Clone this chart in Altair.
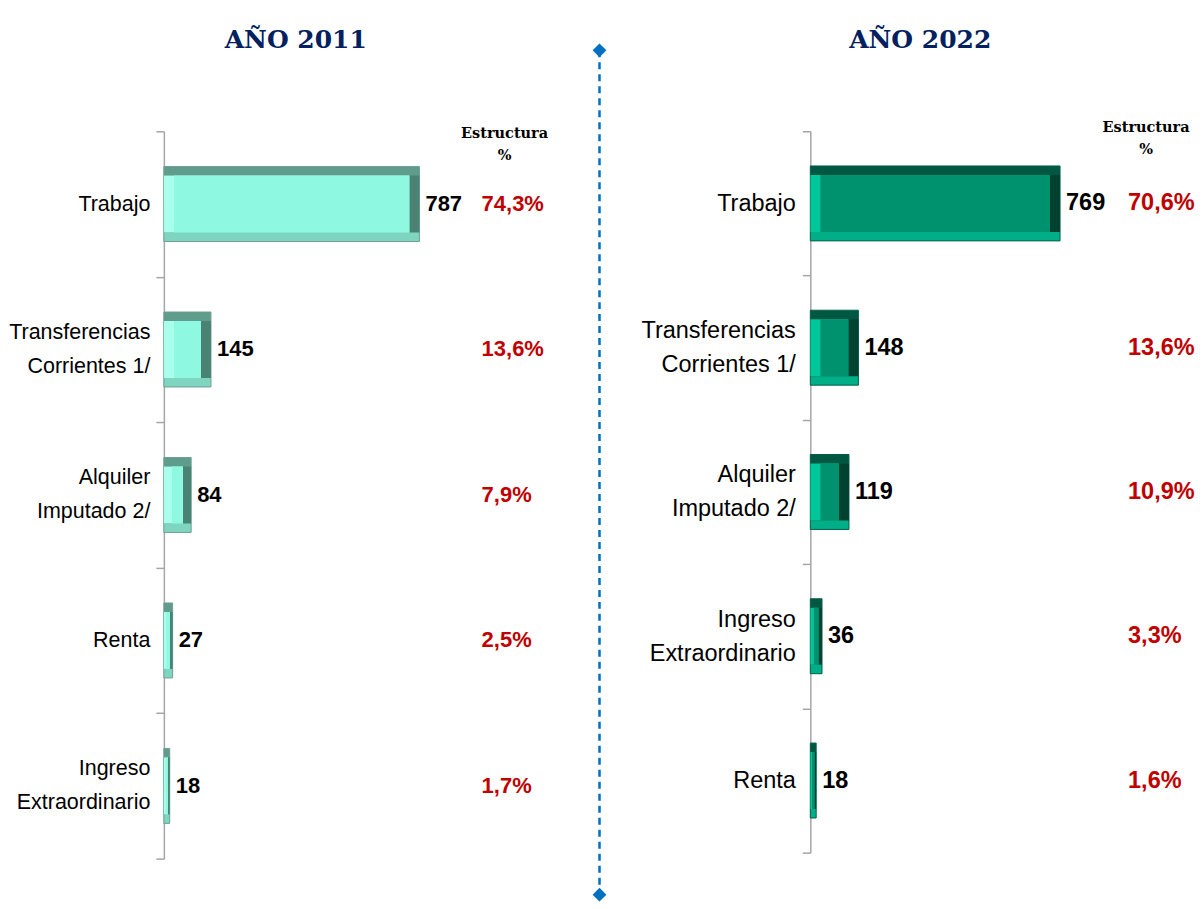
import altair as alt
import pandas as pd

# ---- data ----
left_cats = ["Trabajo", "Transferencias|Corrientes 1/", "Alquiler|Imputado 2/", "Renta", "Ingreso|Extraordinario"]
left_vals = [787, 145, 84, 27, 18]
left_pcts = ["74,3%", "13,6%", "7,9%", "2,5%", "1,7%"]

right_cats = ["Trabajo", "Transferencias|Corrientes 1/", "Alquiler|Imputado 2/", "Ingreso|Extraordinario", "Renta"]
right_vals = [769, 148, 119, 36, 18]
right_pcts = ["70,6%", "13,6%", "10,9%", "3,3%", "1,6%"]

title_left = "AÑO 2011"
title_right = "AÑO 2022"
header_text = "Estructura\n%"

# ---- style ----
SANS = "Liberation Sans, Arial, sans-serif"
SERIF = "DejaVu Serif, Cambria, serif"
PX_PER_UNIT = 0.325

pal_2011 = dict(top="#5F9C8B", bottom="#7ED6C0", left="#A8FFEC", right="#4A8374",
                face="#8EF8E0", border="#6F9F93")
pal_2022 = dict(top="#005843", bottom="#00AE88", left="#00C79A", right="#00422F",
                face="#00916F", border="#00604A")


def grad_v(c_top, c_bot):
    return alt.Gradient(
        gradient="linear", x1=0, x2=0, y1=0, y2=1,
        stops=[alt.GradientStop(color=c_top, offset=0), alt.GradientStop(color=c_top, offset=0.5),
               alt.GradientStop(color=c_bot, offset=0.5), alt.GradientStop(color=c_bot, offset=1)],
    )


def panel(cats, vals, pcts, pal, width, height, title, title_x, label_size, num_size,
          extent, label_pad, pct_x, header_x, header_y, separator=False):
    df = pd.DataFrame({"cat": cats, "val": vals, "pct": pcts})
    dmax = width / PX_PER_UNIT
    xs = alt.Scale(domain=[0, dmax], nice=False, zero=True)
    yax = alt.Axis(
        title=None, labelExpr="split(datum.label, '|')", labelFont=SANS,
        labelFontSize=label_size, labelColor="black", labelLineHeight=34,
        labelOffset={"condition": {"test": "indexof(datum.label, '|') >= 0", "value": -17}, "value": 0},
        labelPadding=label_pad, tickSize=8, tickColor="#A6A6A6", tickWidth=1.5,
        domainColor="#A6A6A6", domainWidth=1.5, tickBand="extent",
        minExtent=extent, maxExtent=extent, labelLimit=300,
    )
    base = alt.Chart(df).transform_calculate(
        zero="0",
        lo="min(31, datum.val * 0.3)",
        hi="datum.val - min(31, datum.val * 0.3)",
    ).encode(
        y=alt.Y("cat:N", sort=cats, scale=alt.Scale(paddingInner=0, paddingOuter=0), axis=yax)
    )
    outer = base.mark_bar(size=75, color=grad_v(pal["top"], pal["bottom"]),
                          stroke=pal["border"], strokeWidth=1).encode(
        x=alt.X("zero:Q", scale=xs, axis=None), x2="val:Q")
    rstrip = base.mark_bar(size=57, color=pal["right"]).encode(
        x=alt.X("zero:Q", axis=None), x2="val:Q")
    lstrip = base.mark_bar(size=57, color=pal["left"]).encode(
        x=alt.X("zero:Q", axis=None), x2="hi:Q")
    face = base.mark_bar(size=57, color=pal["face"]).encode(
        x=alt.X("lo:Q", axis=None), x2="hi:Q")
    vals_t = base.mark_text(align="left", baseline="middle", dx=6, font=SANS, fontSize=num_size,
                            fontWeight="bold", color="black").encode(
        x=alt.X("val:Q", axis=None), text="val:Q")
    pct_t = base.mark_text(align="left", baseline="middle", font=SANS, fontSize=num_size,
                           fontWeight="bold", color="#C00000").encode(
        x=alt.value(pct_x), text="pct:N")
    one = pd.DataFrame({"k": [0]})
    header = alt.Chart(one).mark_text(align="center", baseline="middle", lineBreak="\n",
                                      font=SERIF, fontWeight="bold", fontSize=14.5,
                                      lineHeight=22, color="black").encode(
        x=alt.value(header_x), y=alt.value(header_y), text=alt.value(header_text))
    ttl = alt.Chart(one).mark_text(align="center", baseline="middle", font=SERIF,
                                   fontWeight="bold", fontSize=25, color="#002060").encode(
        x=alt.value(title_x), y=alt.value(-91), text=alt.value(title))
    layers = [outer, rstrip, lstrip, face, vals_t, pct_t, header, ttl]
    if separator:
        sx = 436
        rule = alt.Chart(one).mark_rule(color="#0070C0", strokeWidth=2.5, strokeDash=[7, 5]).encode(
            x=alt.value(sx), y=alt.value(-81), y2=alt.value(764))
        d1 = alt.Chart(one).mark_point(shape="diamond", filled=True, size=190, color="#0070C0",
                                       opacity=1).encode(x=alt.value(sx), y=alt.value(-81))
        d2 = alt.Chart(one).mark_point(shape="diamond", filled=True, size=190, color="#0070C0",
                                       opacity=1).encode(x=alt.value(sx), y=alt.value(764))
        layers += [rule, d1, d2]
    return alt.layer(*layers).properties(width=width, height=height)


left = panel(left_cats, left_vals, left_pcts, pal_2011, 400, 728, title_left, 132, 21.5, 22,
             156, 6, 318, 341, 3, separator=True)
right = panel(right_cats, right_vals, right_pcts, pal_2022, 380, 722, title_right, 110, 23.5, 23.5,
              204, 7, 318, 336, -3)

chart = alt.hconcat(left, right, spacing=0).properties(
    padding={"left": 0, "top": 20, "right": 0, "bottom": 0}
).configure_view(stroke=None)

chart.save("out.html", embed_options={"renderer": "svg", "actions": False})
